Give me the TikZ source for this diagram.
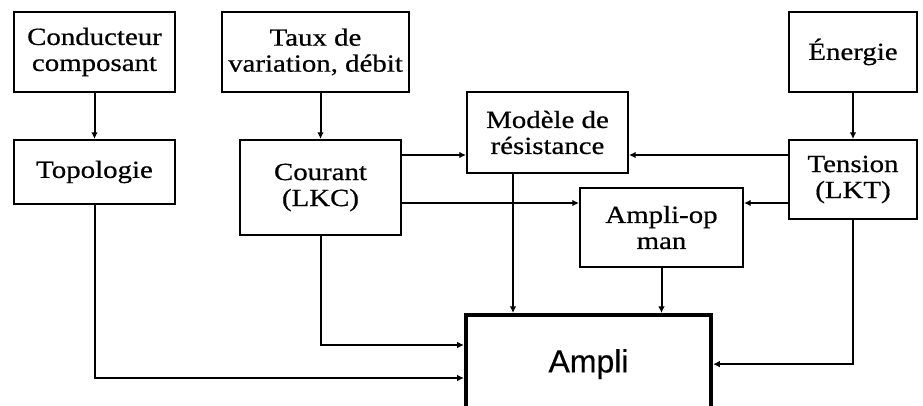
\documentclass[tikz,border=0pt]{standalone}
\usepackage{fontspec}
\setmainfont{Liberation Serif}[FakeStretch=1.17,FakeBold=0.6]
\newfontfamily\amplifont{Liberation Sans}[FakeBold=0.5]
\usetikzlibrary{arrows.meta}

\newcommand{\niveaux}{
\def\yres{155}   % liaisons vers le modele de resistance
\def\yaop{203}   % liaisons vers l'ampli-op
\def\ycour{345}
\def\ytopo{378}
\def\xmod{513}
}

\begin{document}
\begin{tikzpicture}[x=0.75pt,y=-0.75pt,
  bloc/.style={draw,line width=1.6pt,inner sep=0pt,align=center,
    font={\fontsize{18.5}{19.5}\selectfont}},
  fleche/.style={line width=1.5pt,-{Latex[length=5pt,width=5pt]}}]
  \niveaux
  \useasboundingbox (0,0) rectangle (923,406);
  \clip (0,0) rectangle (923,406);
%
  \node[bloc,minimum width=120.75pt,minimum height=60pt] (cond) at (94.5,52) {Conducteur\\composant};
  \node[bloc,minimum width=120.75pt,minimum height=48pt] (topo) at (94.5,172) {Topologie};
  \node[bloc,minimum width=140.25pt,minimum height=60pt] (taux) at (315.5,52) {Taux de\\variation, débit};
  \node[bloc,minimum width=120.75pt,minimum height=71.25pt] (cour) at (320.5,187.5) {Courant\\(LKC)};
  \node[bloc,minimum width=120.75pt,minimum height=60.75pt] (mod) at (547.5,132.5) {Modèle de\\résistance};
  \node[bloc,minimum width=96pt,minimum height=60pt] (ener) at (853,52) {Énergie};
  \node[bloc,minimum width=96pt,minimum height=59.25pt] (tens) at (853,179.5) {Tension\\(LKT)};
  \node[bloc,minimum width=122.25pt,minimum height=59.25pt] (aop) at (661.5,227.5) {Ampli-op\\man};
  \node[bloc,line width=3.2pt,minimum width=183.75pt,minimum height=73.5pt,anchor=north,
    font={\amplifont\fontsize{24}{26}\selectfont}] (ampli) at (588.5,313) {Ampli};
%
  \draw[fleche] (cond) -- (topo);
  \draw[fleche] (cour.north |- taux.south) -- (cour.north);
  \draw[fleche] (ener) -- (tens);
  \draw[fleche] (cour.east |- 0,\yres) -- (mod.west |- 0,\yres);
  \draw[fleche] (tens.west |- 0,\yres) -- (mod.east |- 0,\yres);
  \draw[fleche] (cour.east |- 0,\yaop) -- (aop.west |- 0,\yaop);
  \draw[fleche] (tens.west |- 0,\yaop) -- (aop.east |- 0,\yaop);
  \draw[fleche] (\xmod,0 |- mod.south) -- (\xmod,0 |- ampli.north);
  \draw[fleche] (aop.south) -- (aop.south |- ampli.north);
  \draw[fleche] (tens.south) |- (ampli.east);
  \draw[fleche] (cour.south) |- (ampli.west |- 0,\ycour);
  \draw[fleche] (topo.south) |- (ampli.west |- 0,\ytopo);
\end{tikzpicture}
\end{document}
